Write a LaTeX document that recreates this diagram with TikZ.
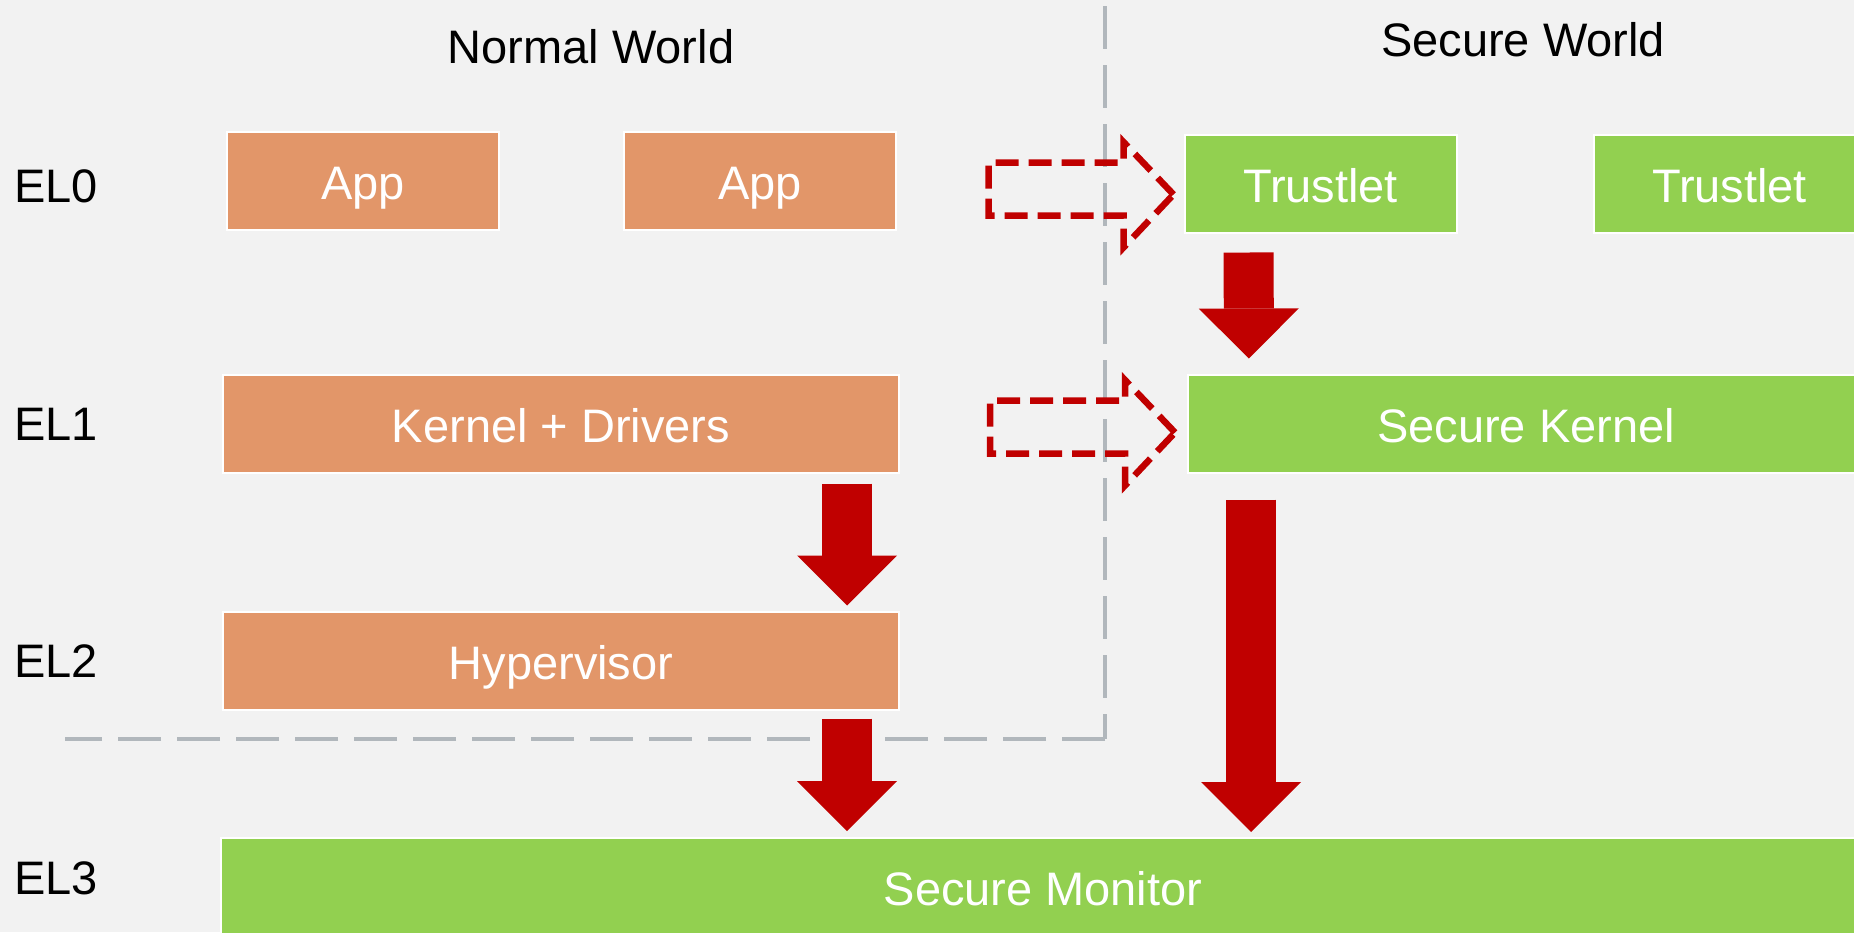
\documentclass[tikz,border=0pt]{standalone}
\usepackage{fontspec}
\setmainfont{Liberation Sans}
\usetikzlibrary{positioning, arrows.meta}
\definecolor{appcol}{HTML}{E29669}
\definecolor{seccol}{HTML}{92D050}
\definecolor{darkred}{HTML}{C00000}
\definecolor{sepgrey}{HTML}{B1B7BC}
\definecolor{bgcol}{HTML}{F2F2F2}
\tikzstyle{nwbox} = [rectangle, minimum width=272pt, minimum height=98pt, text height=42pt, text depth=5pt, fill=appcol, draw=white, line width=2pt, text=white]
\tikzstyle{swbox} = [nwbox, fill=seccol]
\tikzstyle{wide} = [minimum width=676pt]
\tikzstyle{elname} = [anchor=west, inner sep=0pt]
\tikzstyle{blk} = [draw=darkred, line width=50pt, -{Triangle[width=100pt,length=50pt,line width=0pt]}]
\tikzstyle{smc} = [draw=darkred, line width=6.5pt, dash pattern=on 23pt off 10pt]
\tikzstyle{divider} = [draw=sepgrey, line width=4pt, dash pattern=on 43pt off 16pt]

\begin{document}
\begin{tikzpicture}[x=1pt, y=-1pt, font=\fontsize{47}{56}\selectfont]
  \useasboundingbox (0,0) rectangle (1854,932);
  \clip (0,0) rectangle (1854,932);
  \fill[bgcol] (0,0) rectangle (1854,932);

  % world titles
  \node (nw) at (591,47) {Normal World};
  \node (sw) at (1523,40) {Secure World};

  % exception levels
  \node (el0) [elname] at (14,186) {EL0};
  \node (el1) [elname] at (14,424) {EL1};
  \node (el2) [elname] at (14,661) {EL2};
  \node (el3) [elname] at (14,878) {EL3};

  % boundary of the normal world
  \draw[divider] (1105,6) -- (1105,739);
  \draw[divider] (1105,739) -- (65,739);

  \node (app1) [nwbox] at (363,181) {App};
  \node (app2) [nwbox, right=123pt of app1] {App};
  \node (kern) [nwbox, wide] at (561,423.5) {Kernel + Drivers};
  \node (hyp) [nwbox, wide, below=137pt of kern] {Hypervisor};

  \node (trust1) [swbox] at (1320.5,183.5) {Trustlet};
  \node (trust2) [swbox, right=135pt of trust1] {Trustlet};
  \node (seckern) [swbox, wide, anchor=west] at (1187,423.5) {Secure Kernel};
  \node (mon) [swbox, minimum width=1644pt, anchor=north west] at (220,837) {Secure Monitor};

  % calls into the secure world
  \draw[smc] ([xshift=-10pt,yshift=-11pt]trust1.west) -- ++(-50,-52.5) -- ++(0,20.5) -- ++(-135,0)
    -- ++(0,53) -- ++(135,0) -- ++(0,32) -- cycle;
  \draw[smc] ([xshift=-12pt,yshift=-9pt]seckern.west) -- ++(-50,-52.5) -- ++(0,20.5) -- ++(-135,0)
    -- ++(0,53) -- ++(135,0) -- ++(0,32) -- cycle;

  \draw[blk, shorten <=10pt, shorten >=5pt] ([xshift=-53pt]kern.south east) -- ([xshift=-53pt]hyp.north east);
  \draw[blk, shorten <=8pt, shorten >=6pt] ([xshift=-53pt]hyp.south east) -- ([xshift=627pt]mon.north west);
  \draw[blk, shorten <=19pt, shorten >=15pt] ([xshift=65pt]trust1.south west) -- ([xshift=62pt]seckern.north west);
  \draw[blk, shorten <=26pt, shorten >=5pt] ([xshift=64pt]seckern.south west) -- ([xshift=1031pt]mon.north west);

\end{tikzpicture}
\end{document}
